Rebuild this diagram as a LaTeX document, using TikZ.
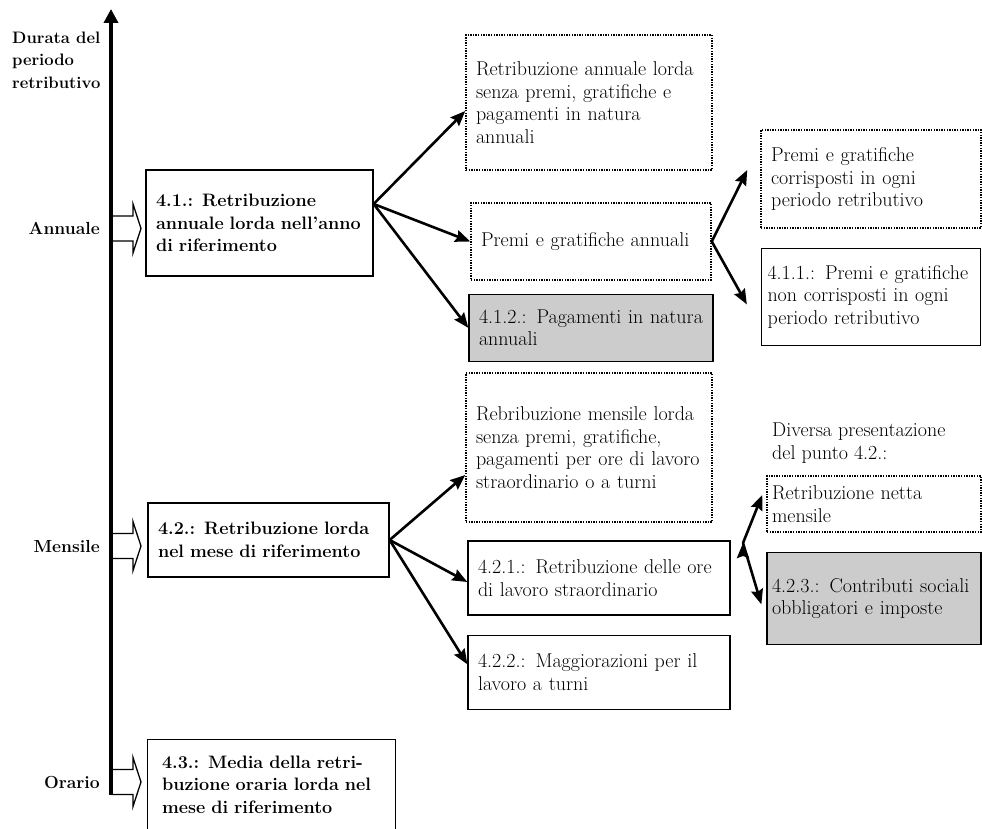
\documentclass[tikz,border=0pt]{standalone}
\usepackage{fontspec}
\usepackage{tikz}
\usetikzlibrary{arrows.meta, positioning}
\newcommand{\hulpil}[1]{\draw[hul] (#1) ++(0,-12.5) -- ++(22,0) -- ++(0,-12) -- ++(8,24.5) -- ++(-8,24.5) -- ++(0,-12) -- ++(-22,0);}

\begin{document}
\begin{tikzpicture}[
    x = 1pt, y = -1pt,
    node distance = 19pt and 11pt,
    fet/.style = {font=\fontsize{17.5}{22.5}\selectfont\bfseries, align=left, inner sep=0pt},
    tekst/.style = {font=\fontsize{20}{22.5}\selectfont, align=left, inner sep=0pt},
    boks/.style = {rectangle, draw, line width=1.3pt, inner xsep=10pt, inner ysep=3pt,
                   font=\fontsize{20}{22.5}\selectfont, align=left},
    prikk/.style = {boks, dash pattern=on 1.4pt off 1.2pt, line width=1.5pt},
    skygge/.style = {boks, fill=black!20},
    hoved/.style = {boks, font=\fontsize{18}{22.5}\selectfont\bfseries},
    pil/.style = {black, line width=2.6pt, -{Stealth[length=15pt, width=12pt, inset=2pt]}},
    akse/.style = {black, line width=3.4pt, -{Triangle[length=14pt, width=14pt]}},
    hul/.style = {draw, line width=1.3pt, fill=white, line join=miter}
    ]
  \useasboundingbox (0,0) rectangle (982,829);

  % axis
  \coordinate (topp) at (111,9);
  \coordinate (bunn) at (111,795);
  \coordinate (aA) at (111,228.5);
  \coordinate (aM) at (111,546);
  \coordinate (aO) at (111,782);

  \node[fet, font=\fontsize{16.6}{22.5}\selectfont\bfseries, anchor=west] (durata) at (12,60)
    {Durata del\\periodo\\retributivo};
  \node[fet] (annuale) [left=of aA] {Annuale};
  \node[fet] (mensile) [left=of aM] {Mensile};
  \node[fet] (orario) [left=of aO] {Orario};

  \hulpil{aA}
  \hulpil{aM}
  \hulpil{aO}
  \draw[akse] (bunn) -- (topp);

  % annuale
  \node[hoved, text width=207pt, minimum height=106pt] (b41) at (259.5,223)
    {4.1.: Retribuzione\\annuale lorda nell'anno\\di riferimento};
  \node[prikk, text width=226pt, minimum height=135pt] (ra) at (589,102.5)
    {Retribuzione annuale lorda\\senza premi, gratifiche e\\pagamenti in natura\\annuali};
  \node[prikk, text width=220pt, minimum height=77pt] (pga) at (591,241.5)
    {Premi e gratifiche annuali};
  \node[skygge, text width=224pt, minimum height=67pt] (b412) [below=13pt of pga]
    {4.1.2.: Pagamenti in natura\\annuali};
  \node[prikk, text width=200pt, minimum height=98pt] (pc) at (871,179)
    {Premi e gratifiche\\corrisposti in ogni\\periodo retributivo};
  \node[boks, inner xsep=6pt, text width=207pt, minimum height=97pt] (b411) [below=of pc]
    {4.1.1.: Premi e gratifiche\\non corrisposti in ogni\\periodo retributivo};

  % mensile
  \node[hoved, text width=221pt, minimum height=74pt] (b42) at (268.5,540)
    {4.2.: Retribuzione lorda\\nel mese di riferimento};
  \node[prikk, text width=226pt, minimum height=149pt] (rm) at (589,447.5)
    {Rebribuzione mensile lorda\\senza premi, gratifiche,\\pagamenti per ore di lavoro\\straordinario o a turni};
  \node[boks, text width=242pt, minimum height=74pt] (b421) at (599,578)
    {4.2.1.: Retribuzione delle ore\\di lavoro straordinario};
  \node[boks, text width=242pt, minimum height=74pt] (b422) [below=of b421]
    {4.2.2.: Maggiorazioni per il\\lavoro a turni};
  \node[tekst, anchor=west] (diversa) at (772,443) {Diversa presentazione\\del punto 4.2.:};
  \node[prikk, inner xsep=5pt, text width=204pt, minimum height=56pt] (rn) at (874,504)
    {Retribuzione netta\\mensile};
  \node[skygge, inner xsep=5pt, text width=204pt, minimum height=92pt] (b423) [below=of rn]
    {4.2.3.: Contributi sociali\\obbligatori e imposte};
  \coordinate (g42) at (743,543);

  % orario
  \node[hoved, draw=none, inner xsep=14pt, text width=219pt, minimum height=89pt] (b43) at (271.5,784.5)
    {4.3.: Media della retri-\\buzione oraria lorda nel\\mese di riferimento};
  \draw[line width=1.3pt] (b43.south west) |- (b43.north east) -- (b43.south east);

  \coordinate (g41) at ([yshift=19pt]b41.east);

  \draw[pil]
  (g41) edge ([yshift=-8.5pt]ra.west)
  (g41) edge (pga.west)
  (g41) edge (b412.west)
  (pga.east) edge ([xshift=-13pt, yshift=9pt]pc.west)
  (pga.east) edge ([xshift=-14pt, yshift=-7.5pt]b411.west)

  (b42.east) edge ([yshift=-27.5pt]rm.west)
  (b42.east) edge ([yshift=-4pt]b421.west)
  (b42.east) edge ([yshift=8pt]b422.west)
  (g42) edge ([xshift=-4pt, yshift=9pt]rn.west)
  (g42) edge ([xshift=-5pt, yshift=-6pt]b423.west);
\end{tikzpicture}
\end{document}
